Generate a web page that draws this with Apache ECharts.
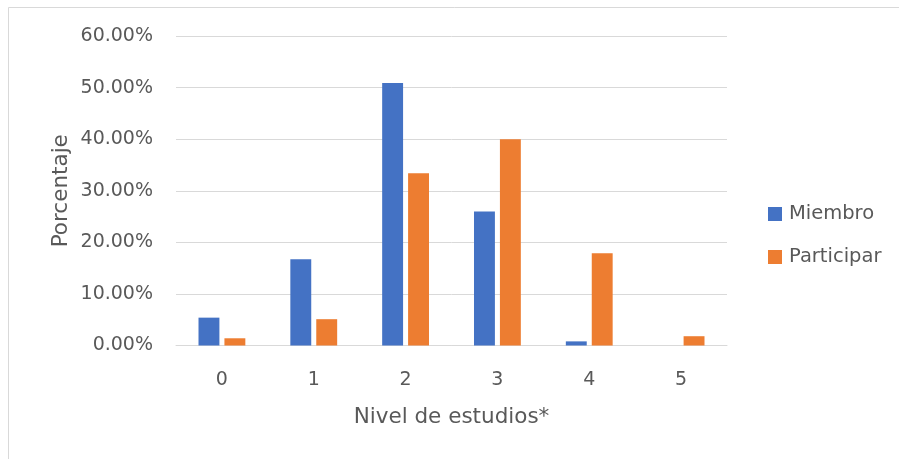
<!DOCTYPE html>
<html>
<head>
<meta charset="utf-8">
<script src="https://cdn.jsdelivr.net/npm/echarts@6/dist/echarts.min.js"></script>
<style>
  html, body { margin: 0; padding: 0; background: #fff; }
  #chart { width: 899px; height: 459px; }
</style>
</head>
<body>
<div id="chart"></div>
<script>
// Education level categories and the share (%) of each group
const categories = ['0', '1', '2', '3', '4', '5'];
const miembro = [5.4, 16.7, 50.9, 26.0, 0.8, 0];
const participar = [1.4, 5.1, 33.4, 40.0, 17.9, 1.8];
const seriesNames = ['Miembro', 'Participar'];
const yTicks = { min: 0, max: 60, interval: 10 };

const FONT = 'DejaVu Sans';
const TEXT = '#595959';
const GRID = '#d9d9d9';

const chart = echarts.init(document.getElementById('chart'), null, { renderer: 'canvas' });

chart.setOption({
  animation: false,
  backgroundColor: '#fff',
  textStyle: { fontFamily: FONT, color: TEXT },
  graphic: [{
    type: 'rect',
    shape: { x: 8.5, y: 7.5, width: 1000, height: 1000 },
    style: { fill: 'none', stroke: GRID, lineWidth: 1 },
    silent: true
  }],
  grid: { left: 176, right: 172, top: 36, bottom: 113.5, containLabel: false },
  legend: {
    orient: 'vertical',
    left: 768,
    top: 204,
    padding: 0,
    itemWidth: 14,
    itemHeight: 14,
    itemGap: 23,
    icon: 'rect',
    data: seriesNames,
    textStyle: { fontFamily: FONT, fontSize: 19.5, color: TEXT, lineHeight: 20, padding: [0, 0, 0, 2] }
  },
  xAxis: {
    type: 'category',
    data: categories,
    name: 'Nivel de estudios*',
    nameLocation: 'middle',
    nameGap: 61,
    nameMoveOverlap: false,
    nameTextStyle: { fontFamily: FONT, fontSize: 21.5, color: TEXT, lineHeight: 21 },
    axisLine: { lineStyle: { color: GRID, width: 1 } },
    axisTick: { show: false },
    axisLabel: { fontFamily: FONT, fontSize: 19, color: TEXT, margin: 25, lineHeight: 19 }
  },
  yAxis: {
    type: 'value',
    min: yTicks.min,
    max: yTicks.max,
    interval: yTicks.interval,
    name: 'Porcentaje',
    nameLocation: 'middle',
    nameGap: 104,
    nameMoveOverlap: false,
    nameRotate: 90,
    nameTextStyle: { fontFamily: FONT, fontSize: 21.5, color: TEXT, lineHeight: 21 },
    axisLine: { show: false },
    axisTick: { show: false },
    splitLine: { lineStyle: { color: GRID, width: 1 } },
    axisLabel: {
      fontFamily: FONT, fontSize: 19, color: TEXT, margin: 23,
      formatter: v => v.toFixed(2) + '%'
    }
  },
  series: [
    {
      name: seriesNames[0],
      type: 'bar',
      data: miembro,
      itemStyle: { color: '#4472C4' },
      barGap: '24%',
      barCategoryGap: '49%'
    },
    {
      name: seriesNames[1],
      type: 'bar',
      data: participar,
      itemStyle: { color: '#ED7D31' },
      barGap: '24%',
      barCategoryGap: '49%'
    }
  ]
});
</script>
</body>
</html>
